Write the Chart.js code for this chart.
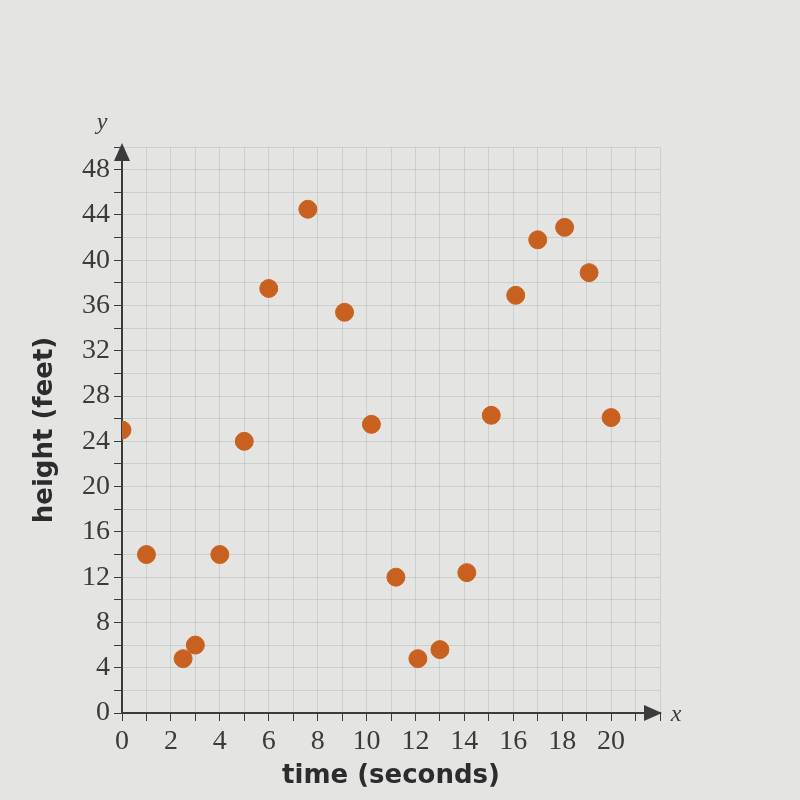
<!DOCTYPE html>
<html>
<head>
<meta charset="utf-8">
<script src="https://cdn.jsdelivr.net/npm/chart.js@4.4.0/dist/chart.umd.min.js"></script>
<style>
  html, body { margin: 0; padding: 0; background: #e4e5e3; }
  #wrap { width: 800px; height: 800px; }
</style>
</head>
<body>
<div id="wrap"><canvas id="scatterChart" width="800" height="800"></canvas></div>
<script>
const ctx = document.getElementById('scatterChart').getContext('2d')

// values
const time_values = [0, 1, 2.5, 3, 4, 5, 6, 7.6, 9.1, 10.2, 11.2, 12.1, 13, 14.1, 15.1, 16.1, 17, 18.1, 19.1, 20]
const height_values = [25, 14, 4.8, 6, 14, 24, 37.5, 44.5, 35.4, 25.5, 12, 4.8, 5.6, 12.4, 26.3, 36.9, 41.8, 42.9, 38.9, 26.1]
const x_tick_labels = [0, 2, 4, 6, 8, 10, 12, 14, 16, 18, 20]
const y_tick_labels = [0, 4, 8, 12, 16, 20, 24, 28, 32, 36, 40, 44, 48]

const points = time_values.map((t, i) => ({ x: t, y: height_values[i] }))

const AXIS_COLOR = '#3b3b3b'
const GRID_COLOR = 'rgba(160, 174, 174, 0.38)'

// arrow heads and the x / y letters at the axis ends
const axisArrows = {
  id: 'axisArrows',
  afterDraw (chart) {
    const c = chart.ctx
    const area = chart.chartArea
    c.save()
    c.fillStyle = AXIS_COLOR
    c.beginPath()
    c.moveTo(area.left, area.top - 4)
    c.lineTo(area.left - 8, area.top + 14)
    c.lineTo(area.left + 8, area.top + 14)
    c.closePath()
    c.fill()
    c.beginPath()
    c.moveTo(area.right + 2, area.bottom)
    c.lineTo(area.right - 16, area.bottom - 8)
    c.lineTo(area.right - 16, area.bottom + 8)
    c.closePath()
    c.fill()
    c.font = 'italic 24px "Liberation Serif"'
    c.textAlign = 'center'
    c.textBaseline = 'middle'
    c.fillText('y', area.left - 20, area.top - 24)
    c.fillText('x', area.right + 16, area.bottom + 2)
    c.restore()
  }
}

Chart.defaults.font.family = "'Liberation Serif'"
Chart.defaults.color = AXIS_COLOR

new Chart(ctx, {
  type: 'scatter',
  data: {
    datasets: [
      {
        data: points,
        backgroundColor: '#c8611f',
        borderColor: '#c8611f',
        pointRadius: 9,
        pointHoverRadius: 9
      }
    ]
  },
  options: {
    responsive: false,
    animation: false,
    layout: {
      padding: { top: 147, right: 140, left: 30, bottom: 8 }
    },
    plugins: {
      legend: { display: false },
      tooltip: { enabled: false }
    },
    scales: {
      x: {
        type: 'linear',
        min: 0,
        max: 22,
        afterFit: scale => { scale.height = 79 },
        border: { color: AXIS_COLOR, width: 2 },
        grid: {
          color: GRID_COLOR,
          tickColor: AXIS_COLOR,
          tickLength: 8
        },
        ticks: {
          stepSize: 1,
          autoSkip: false,
          maxRotation: 0,
          padding: 4,
          font: { size: 28 },
          callback: value => (x_tick_labels.includes(value) ? String(value) : '')
        },
        title: {
          display: true,
          text: 'time (seconds)',
          padding: 0,
          font: { family: "'DejaVu Sans'", weight: 'bold', size: 26 },
          color: '#2c2c2c'
        }
      },
      y: {
        type: 'linear',
        min: 0,
        max: 50,
        afterFit: scale => { scale.width = 92 },
        border: { color: AXIS_COLOR, width: 2 },
        grid: {
          color: GRID_COLOR,
          tickColor: AXIS_COLOR,
          tickLength: 8
        },
        ticks: {
          stepSize: 2,
          autoSkip: false,
          padding: 4,
          font: { size: 28 },
          callback: value => (y_tick_labels.includes(value) ? String(value) : '')
        },
        title: {
          display: true,
          text: 'height (feet)',
          padding: 0,
          font: { family: "'DejaVu Sans'", weight: 'bold', size: 26 },
          color: '#2c2c2c'
        }
      }
    }
  },
  plugins: [axisArrows]
})
</script>
</body>
</html>
